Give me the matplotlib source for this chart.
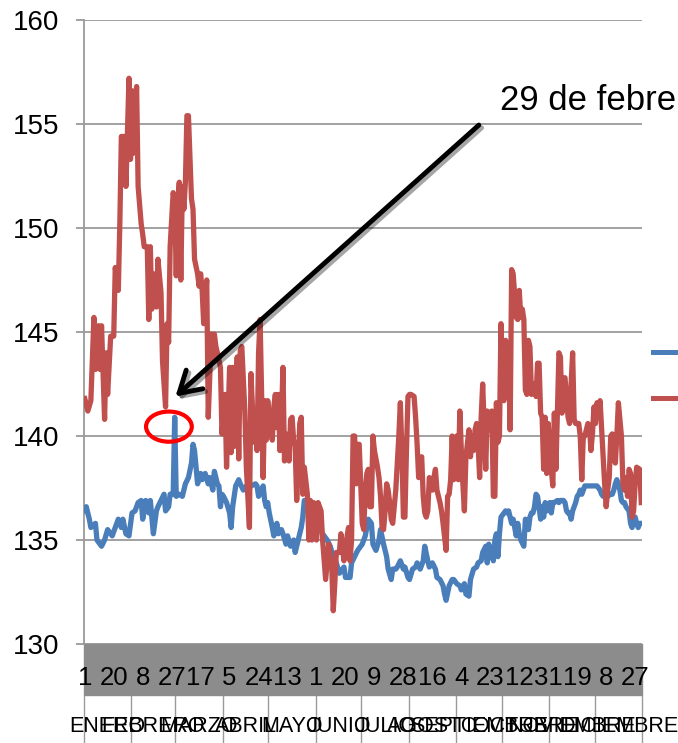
import matplotlib

matplotlib.use("Agg")
import matplotlib.pyplot as plt
import matplotlib.patheffects as pe
from matplotlib.lines import Line2D
from matplotlib.patches import Ellipse, Rectangle

plt.rcParams["font.family"] = ["Liberation Sans", "DejaVu Sans"]

# daily series, day index 0 = 1 de enero (2012, leap year)
red_day = [
    0, 2, 4, 6, 7, 9, 10, 11, 13, 14, 15, 17, 19, 20, 22, 23, 24, 26, 27, 28,
    29, 30, 31, 32, 34, 35, 37, 38, 39, 41, 42, 43, 44, 45, 47, 48, 50, 51, 53, 54,
    55, 56, 58, 59, 60, 61, 62, 63, 64, 65, 66, 67, 68, 70, 71, 72, 74, 75, 76, 77,
    78, 80, 81, 83, 84, 85, 86, 87, 89, 90, 92, 93, 95, 96, 97, 98, 100, 101, 102, 103,
    105, 106, 108, 109, 111, 112, 113, 114, 115, 116, 117, 118, 119, 120, 121, 123, 124, 125, 126, 127,
    128, 129, 130, 131, 132, 134, 135, 136, 137, 138, 139, 140, 141, 142, 143, 144, 146, 147, 148, 149,
    150, 152, 153, 155, 156, 158, 160, 162, 163, 164, 165, 167, 168, 170, 171, 173, 174, 175, 176, 177,
    178, 179, 180, 182, 183, 184, 185, 186, 187, 188, 189, 190, 192, 193, 194, 195, 196, 197, 198, 199,
    200, 201, 202, 204, 205, 206, 207, 208, 209, 210, 211, 212, 213, 214, 216, 217, 218, 219, 220, 221,
    222, 223, 224, 225, 226, 228, 229, 230, 231, 232, 233, 234, 235, 237, 238, 239, 240, 241, 242, 244,
    245, 246, 247, 248, 249, 250, 252, 253, 254, 255, 256, 257, 258, 259, 260, 261, 263, 264, 266, 267,
    268, 269, 270, 271, 272, 273, 274, 275, 276, 277, 278, 279, 280, 281, 283, 284, 285, 286, 287, 288,
    289, 290, 291, 292, 293, 295, 296, 297, 298, 299, 300, 301, 302, 303, 304, 306, 307, 308, 309, 310,
    311, 312, 313, 314, 315, 317, 318, 319, 320, 321, 322, 324, 325, 326, 327, 328, 330, 331, 332, 333,
    334, 335, 336, 337, 338, 340, 341, 342, 343, 344, 345, 346, 347, 348, 349, 350, 352, 353, 354, 355,
    356, 357, 358, 359, 360, 361, 362, 364, 365,
]
red_value = [
    141.8, 141.2, 141.7, 145.7, 143.2, 145.3, 143.2, 145.3, 140.8, 144.0, 142.0, 144.8, 144.8, 148.1, 147.0, 150.2, 154.4, 154.4, 152.0, 154.6,
    157.2, 153.3, 156.6, 153.6, 156.8, 152.0, 150.2, 149.7, 149.1, 149.1, 145.6, 149.1, 146.1, 147.8, 146.2, 148.5, 146.9, 143.6, 141.4, 145.4,
    144.5, 149.1, 151.7, 151.2, 147.7, 151.2, 152.2, 147.5, 152.0, 150.9, 152.2, 155.4, 155.4, 151.4, 150.9, 148.5, 147.8, 147.2, 147.8, 147.0,
    145.4, 147.5, 140.9, 144.9, 143.6, 144.9, 144.3, 144.0, 143.3, 140.1, 142.0, 138.5, 143.3, 139.2, 143.3, 139.5, 143.8, 138.9, 144.1, 144.3,
    141.2, 138.5, 135.6, 143.0, 139.7, 141.2, 139.3, 144.0, 145.6, 142.0, 138.0, 141.7, 139.8, 141.7, 140.9, 139.8, 141.4, 142.0, 140.4, 142.0,
    139.3, 140.8, 143.3, 138.8, 140.1, 138.8, 140.8, 140.9, 139.8, 139.5, 136.9, 138.5, 140.6, 140.9, 137.2, 138.5, 137.2, 135.0, 136.9, 135.0,
    136.8, 135.0, 136.8, 136.4, 135.0, 133.1, 134.8, 133.7, 131.6, 132.9, 134.4, 134.4, 135.3, 134.0, 134.7, 135.6, 134.0, 135.0, 140.0, 140.0,
    137.7, 139.6, 139.6, 135.8, 135.5, 137.4, 138.2, 138.4, 136.6, 136.6, 140.0, 139.3, 138.5, 138.0, 137.1, 135.6, 135.5, 136.4, 137.7, 137.4,
    136.8, 136.0, 135.8, 137.4, 138.7, 140.0, 141.6, 139.3, 136.1, 136.1, 139.3, 141.9, 142.0, 142.0, 141.9, 140.9, 139.6, 138.0, 138.8, 139.0,
    137.1, 136.3, 136.1, 136.4, 138.0, 137.4, 138.0, 138.4, 137.4, 137.1, 136.8, 136.4, 135.8, 134.5, 137.1, 137.2, 137.9, 140.0, 137.9, 140.0,
    137.9, 141.2, 139.3, 137.7, 136.4, 139.0, 140.3, 139.0, 140.0, 139.3, 140.3, 140.6, 139.6, 138.0, 140.9, 142.5, 138.4, 141.2, 140.3, 141.2,
    137.1, 137.1, 141.6, 139.7, 140.0, 145.4, 141.9, 141.7, 144.6, 141.9, 144.3, 140.3, 148.0, 147.8, 145.7, 145.6, 147.0, 145.7, 146.1, 145.6,
    142.2, 142.0, 144.6, 144.3, 142.0, 142.5, 141.9, 143.5, 143.5, 141.1, 140.9, 138.4, 140.9, 138.2, 140.6, 138.4, 137.6, 141.1, 138.4, 141.1,
    144.0, 143.8, 141.1, 142.8, 142.8, 140.9, 140.6, 142.5, 144.0, 140.8, 140.6, 140.6, 140.0, 137.9, 140.0, 140.0, 140.6, 140.5, 139.3, 140.1,
    141.4, 140.6, 141.6, 141.2, 141.7, 139.0, 137.7, 136.6, 137.4, 138.0, 140.0, 140.1, 139.0, 138.7, 140.0, 141.6, 140.0, 137.7, 137.4, 138.0,
    137.1, 138.4, 138.2, 136.1, 136.4, 137.7, 138.5, 138.4, 136.8,
]

blue_day = [
    0, 1, 3, 4, 7, 8, 10, 11, 13, 15, 18, 20, 22, 24, 25, 27, 29, 31, 33, 35,
    37, 38, 40, 42, 43, 45, 47, 48, 50, 52, 53, 55, 56, 58, 59, 60, 62, 64, 66, 68,
    70, 71, 72, 74, 76, 77, 79, 81, 82, 84, 85, 87, 88, 89, 90, 91, 93, 95, 96, 97,
    99, 101, 102, 104, 106, 107, 109, 112, 113, 114, 116, 117, 118, 119, 120, 121, 123, 124, 125, 126,
    127, 129, 130, 132, 133, 135, 137, 138, 140, 142, 143, 144, 146, 148, 150, 152, 154, 156, 159, 161,
    163, 165, 167, 170, 171, 173, 174, 175, 177, 179, 182, 184, 186, 188, 189, 191, 193, 194, 196, 198,
    199, 201, 202, 204, 205, 207, 209, 210, 212, 213, 215, 217, 218, 220, 222, 223, 225, 226, 228, 230,
    231, 233, 235, 236, 237, 239, 241, 242, 244, 246, 247, 249, 250, 252, 253, 255, 257, 258, 260, 261,
    263, 264, 265, 266, 267, 268, 269, 270, 271, 272, 273, 275, 276, 277, 278, 279, 280, 281, 282, 283,
    284, 285, 286, 288, 289, 290, 291, 292, 293, 294, 295, 296, 297, 299, 300, 301, 302, 303, 304, 305,
    306, 307, 308, 310, 311, 312, 313, 314, 315, 316, 317, 318, 319, 320, 322, 323, 324, 325, 326, 327,
    328, 330, 333, 336, 338, 339, 340, 342, 343, 345, 346, 347, 348, 349, 350, 351, 352, 353, 354, 355,
    357, 358, 359, 360, 361, 362, 363, 364, 365,
]
blue_value = [
    136.4, 136.6, 136.0, 135.6, 135.8, 135.0, 134.8, 134.7, 135.0, 135.5, 135.2, 135.6, 136.0, 135.6, 136.0, 135.3, 135.2, 136.3, 136.4, 136.8,
    136.9, 136.0, 136.9, 136.3, 136.9, 135.3, 136.4, 136.6, 136.9, 137.2, 136.4, 136.6, 137.2, 137.2, 140.9, 137.1, 137.2, 137.1, 137.7, 138.0,
    138.7, 139.6, 139.3, 137.7, 138.2, 137.9, 138.2, 137.7, 138.0, 137.4, 138.3, 137.7, 137.6, 136.6, 137.2, 137.1, 136.8, 136.3, 135.6, 136.6,
    137.6, 137.9, 137.7, 137.4, 137.6, 137.4, 137.6, 137.7, 137.6, 137.1, 137.4, 137.6, 136.9, 136.6, 136.8, 136.3, 135.6, 135.2, 135.5, 135.8,
    135.3, 135.5, 135.3, 134.8, 135.2, 134.7, 135.0, 134.4, 135.0, 135.6, 136.1, 136.9, 136.8, 136.4, 136.1, 135.8, 135.6, 135.3, 135.0, 134.7,
    134.2, 133.9, 133.4, 133.7, 133.2, 133.2, 133.2, 133.9, 134.2, 134.5, 134.8, 135.2, 136.0, 135.8, 134.8, 134.5, 135.0, 135.5, 134.8, 134.2,
    133.6, 133.1, 133.6, 133.6, 133.7, 134.0, 133.6, 133.7, 133.2, 133.1, 133.6, 133.7, 133.9, 133.6, 134.0, 134.7, 134.0, 133.7, 133.9, 133.6,
    133.2, 133.1, 132.8, 132.4, 132.1, 132.8, 133.1, 133.1, 132.9, 132.8, 132.6, 132.9, 132.4, 132.3, 133.1, 133.6, 133.7, 133.9, 134.0, 134.4,
    134.7, 133.9, 134.8, 134.2, 134.5, 134.0, 135.0, 135.3, 134.2, 135.3, 136.1, 136.3, 136.4, 136.3, 136.4, 136.1, 135.8, 136.0, 135.6, 135.2,
    135.8, 135.3, 135.0, 134.7, 136.0, 135.8, 135.5, 136.1, 136.3, 136.3, 136.6, 137.2, 137.1, 136.0, 136.6, 136.1, 136.8, 136.4, 136.6, 136.8,
    136.3, 136.8, 136.8, 136.9, 136.8, 136.9, 136.9, 136.9, 136.8, 136.4, 136.3, 136.3, 136.0, 136.4, 136.8, 137.1, 137.2, 137.4, 137.2, 137.4,
    137.6, 137.6, 137.6, 137.6, 137.4, 137.2, 137.1, 137.1, 137.1, 137.2, 137.2, 137.4, 137.7, 137.9, 137.7, 137.4, 136.9, 136.8, 136.8, 136.6,
    136.4, 135.8, 135.6, 136.1, 136.1, 135.8, 135.6, 135.8, 135.8,
]

month_names = ["ENERO", "FEBRERO", "MARZO", "ABRIL", "MAYO", "JUNIO", "JULIO",
               "AGOSTO", "SEPTIEMBRE", "OCTUBRE", "NOVIEMBRE", "DICIEMBRE"]
month_length = [31, 29, 31, 30, 31, 30, 31, 31, 30, 31, 30, 31]
day_labels = ["1", "20", "8", "27", "17", "5", "24", "13", "1", "20",
              "9", "28", "16", "4", "23", "12", "31", "19", "8", "27"]
label_step = 19
feb29 = 59
note_text = "29 de febrero"

BLUE = "#4a7ebb"
RED = "#c0504d"
GRID = "#9a9a9a"
BAND = "#8c8c8c"


def draw_axis_band(ax):
    band_h = 0.082
    ax.add_patch(Rectangle((0, -band_h), 1, band_h, transform=ax.transAxes,
                           color=BAND, clip_on=False, zorder=1))
    xt = ax.get_xaxis_transform()
    for i, lab in enumerate(day_labels):
        ax.text(i * label_step, -0.054, lab, transform=xt, ha="center", va="center",
                fontsize=18.5, color="black", zorder=3)
    edges = [-0.5]
    for n in month_length:
        edges.append(edges[-1] + n)
    ax.vlines(edges, -0.2, -band_h, transform=xt, colors=GRID, lw=1.0, clip_on=False)
    for name, a, b in zip(month_names, edges[:-1], edges[1:]):
        ax.text((a + b) / 2, -0.133, name, transform=xt, ha="center", va="center",
                fontsize=15.5)


def make_figure(out="out.png"):
    fig = plt.figure(figsize=(6.78, 7.43), dpi=100)
    ax = fig.add_axes([84 / 678, 1 - 644 / 743, 558 / 678, 624 / 743])

    ax.plot(blue_day, blue_value, color=BLUE, lw=3.8, solid_joinstyle="round", zorder=3)
    ax.plot(red_day, red_value, color=RED, lw=3.8, solid_joinstyle="round", zorder=4)

    ax.set_xlim(-0.5, 365.5)
    ax.set_ylim(130, 160)
    ax.set_yticks(range(130, 161, 5))
    ax.yaxis.grid(True, color=GRID, lw=1.3)
    ax.set_axisbelow(True)
    ax.set_xticks([])
    for side in ("top", "right", "bottom"):
        ax.spines[side].set_visible(False)
    ax.spines["left"].set_color(GRID)
    ax.spines["left"].set_linewidth(1.3)
    ax.tick_params(axis="y", length=6, width=1.3, color=GRID, labelsize=20, pad=12)

    draw_axis_band(ax)

    # marca del 29 de febrero
    spike = blue_value[blue_day.index(feb29)]
    ax.add_patch(Ellipse((feb29 - 3.8, spike - 0.45), 30, 1.45, fill=False,
                         ec="#ff0000", lw=3, zorder=6))
    ax.annotate("", xy=(feb29 + 0.5, spike + 1.0), xytext=(258.5, 154.95),
                arrowprops=dict(arrowstyle="->,head_length=0.75,head_width=0.45",
                                lw=3.5, color="black", mutation_scale=20,
                                shrinkA=0, shrinkB=0,
                                path_effects=[pe.SimpleLineShadow(offset=(2, -2), alpha=0.35),
                                              pe.Normal()]),
                zorder=7)
    ax.text(272.5, 155.67, note_text, fontsize=25, va="baseline", ha="left", zorder=7)

    # claves de la leyenda (cortadas por el borde)
    for color, y in ((BLUE, 352), (RED, 398)):
        fig.add_artist(Line2D([653 / 678, 1.02], [1 - y / 743] * 2, color=color, lw=3.6))

    fig.savefig(out, dpi=100)
    plt.close(fig)
    return out


make_figure()
